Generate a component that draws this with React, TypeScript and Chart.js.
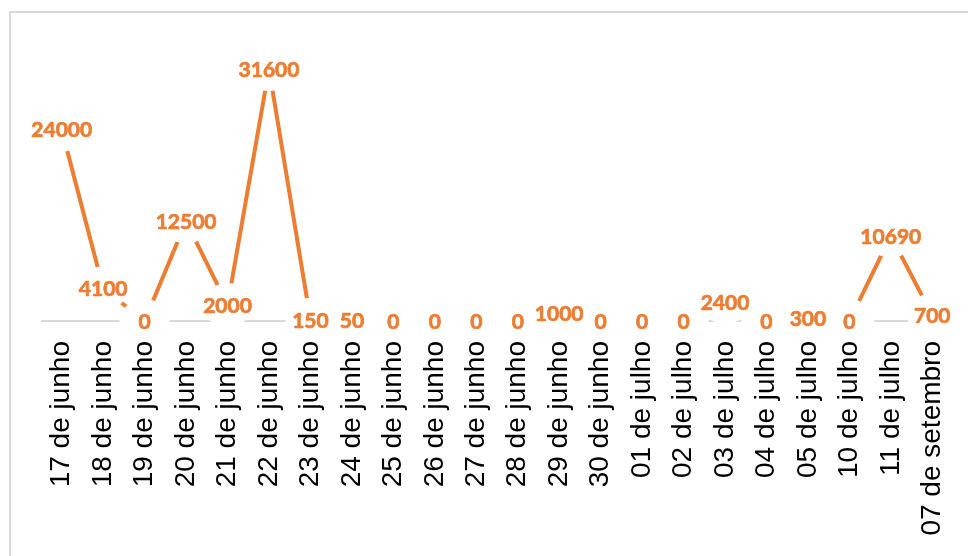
import React, { useEffect, useRef } from "react";
import { Chart, registerables } from "chart.js";

Chart.register(...registerables);

const categories: string[] = [
  "17 de junho", "18 de junho", "19 de junho", "20 de junho", "21 de junho",
  "22 de junho", "23 de junho", "24 de junho", "25 de junho", "26 de junho",
  "27 de junho", "28 de junho", "29 de junho", "30 de junho",
  "01 de julho", "02 de julho", "03 de julho", "04 de julho", "05 de julho",
  "10 de julho", "11 de julho", "07 de setembro",
];

const values: number[] = [
  24000, 4100, 0, 12500, 2000, 31600, 150, 50, 0, 0, 0,
  0, 1000, 0, 0, 0, 2400, 0, 300, 0, 10690, 700,
];

const yMin = 0;
const yMax = 35000;

const ORANGE = "#ED7D31";

export default function App() {
  const ref = useRef<HTMLCanvasElement>(null);

  useEffect(() => {
    if (!ref.current) return;

    const labelPlugin = {
      id: "pointLabels",
      beforeDatasetsDraw(chart: any) {
        const { ctx, chartArea } = chart;
        const y = chart.scales.y.getPixelForValue(0);
        ctx.save();
        ctx.strokeStyle = "#d9d9d9";
        ctx.lineWidth = 2;
        ctx.beginPath();
        ctx.moveTo(chartArea.left, y);
        ctx.lineTo(chartArea.right, y);
        ctx.stroke();
        ctx.restore();
      },
      afterDatasetsDraw(chart: any) {
        const { ctx } = chart;
        const meta = chart.getDatasetMeta(0);
        ctx.save();
        ctx.fillStyle = "#ffffff";
        meta.data.forEach((pt: any) => {
          ctx.beginPath();
          ctx.ellipse(pt.x, pt.y, 25, 22, 0, 0, Math.PI * 2);
          ctx.fill();
        });
        ctx.font = "bold 21px Lato";
        ctx.fillStyle = ORANGE;
        ctx.strokeStyle = ORANGE;
        ctx.lineWidth = 0.7;
        ctx.lineJoin = "round";
        ctx.textAlign = "center";
        ctx.textBaseline = "middle";
        meta.data.forEach((pt: any, i: number) => {
          const t = String(values[i]);
          ctx.fillText(t, pt.x, pt.y + 1);
          ctx.strokeText(t, pt.x, pt.y + 1);
        });
        ctx.restore();
      },
    };

    const chart = new Chart(ref.current, {
      type: "line",
      data: {
        labels: categories,
        datasets: [
          {
            data: values,
            borderColor: ORANGE,
            borderWidth: 4,
            pointRadius: 0,
            tension: 0,
            fill: false,
          },
        ],
      },
      options: {
        responsive: false,
        animation: false,
        devicePixelRatio: 1,
        layout: { padding: { top: 42, left: 41, right: 15, bottom: 0 } },
        plugins: {
          legend: { display: false },
          tooltip: { enabled: false },
          title: { display: false },
        },
        scales: {
          x: {
            type: "category",
            offset: true,
            grid: { display: false, drawTicks: false },
            border: { display: false },
            ticks: {
              z: 1,
              autoSkip: false,
              maxRotation: 90,
              minRotation: 90,
              padding: 20,
              color: "#000000",
              font: { family: "'Liberation Sans', Arial, sans-serif", size: 28 },
            },
            afterFit: (scale: any) => {
              scale.height = 235;
              scale.paddingLeft = 0;
              scale.paddingRight = 0;
            },
          },
          y: {
            display: false,
            min: yMin,
            max: yMax,
          },
        },
      },
      plugins: [labelPlugin],
    });

    return () => chart.destroy();
  }, []);

  return (
    <div
      style={{
        position: "fixed",
        left: 0,
        top: 0,
        width: 968,
        height: 556,
        overflow: "hidden",
        background: "#ffffff",
      }}
    >
      <div
        style={{
          position: "absolute",
          left: 9,
          top: 11,
          width: 1000,
          height: 600,
          border: "2px solid #d9d9d9",
          boxSizing: "border-box",
        }}
      />
      <canvas
        ref={ref}
        width={968}
        height={556}
        style={{ position: "absolute", left: 0, top: 0, width: 968, height: 556 }}
      />
    </div>
  );
}
